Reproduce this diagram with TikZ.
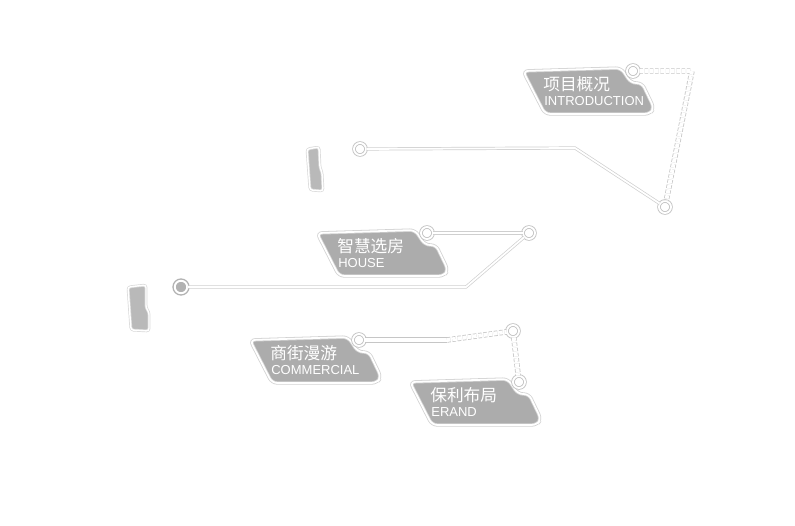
\documentclass[tikz,border=0pt]{standalone}
\usepackage{fontspec}
\setmainfont{Liberation Sans}
\newfontfamily\cjk{Noto Sans CJK SC}

\tikzset{
  tagbody/.style={draw=gray!35, line width=0.45pt, double=white, double distance=1pt, fill=gray!65, rounded corners=3pt},
  cn/.style={text=white, inner sep=0pt, anchor=west, font=\cjk\fontsize{9.5}{10}\selectfont},
  en/.style={text=white, inner sep=0pt, anchor=west, font=\fontsize{7.4}{8}\selectfont},
  ring/.style={circle, draw=gray!50, line width=0.45pt, double=white, double distance=1.1pt, fill=white, inner sep=0pt, minimum size=0.24cm},
  dot/.style={circle, draw=gray!60, line width=0.8pt, double=white, double distance=1.1pt, fill=gray!60, inner sep=0pt, minimum size=0.25cm},
  bus/.style={draw=gray!38, line width=0.4pt, double=white, double distance=1pt},
  widebus/.style={draw=gray!45, line width=0.45pt, double=white, double distance=2.2pt},
  dashbus/.style={widebus, dash pattern=on 2pt off 1pt},
  badge/.style={draw=gray!30, line width=0.4pt, double=white, double distance=0.8pt, fill=gray!55, rounded corners=1.5pt},
  pics/tag/.style 2 args={code={
    \draw[tagbody] (0,3) -- (98,0) -- (108,15) -- (119,15) -- (131,40) -- (127,46) -- (22,46) -- cycle;
    \node[cn] (-cn) at (20,16) {#1};
    \node[en] (-en) at (21,33) {#2};
  }},
}

\begin{document}
\begin{tikzpicture}[x=0.02cm, y=-0.02cm]
  \useasboundingbox (0,0) rectangle (795,525);

  % Tags
  \pic (intro) at (523,68) {tag={项目概况}{INTRODUCTION}};
  \pic (house) at (317,230) {tag={智慧选房}{HOUSE}};
  \pic (comm) at (250,337) {tag={商街漫游}{COMMERCIAL}};
  \pic (erand) at (410,379) {tag={保利布局}{ERAND}};

  % Badges
  \draw[badge] (307,149) -- (319,147) -- (320,168) -- (322,172) -- (323,191) -- (310,190) -- cycle;
  \draw[badge] (128,287) -- (146,285) -- (146,308) -- (149,312) -- (149,331) -- (131,330) -- cycle;

  % Rings
  \node[ring] (ic1) at (633,71) {};
  \node[ring] (ic2) at (665,207) {};
  \node[ring] (ic3) at (360,149) {};
  \node[ring] (hc1) at (427,233) {};
  \node[ring] (hc2) at (529,233) {};
  \node[dot] (hc3) at (181,287) {};
  \node[ring] (cc1) at (359,340) {};
  \node[ring] (cc2) at (513,331) {};
  \node[ring] (cc3) at (519,382) {};

  % Bends
  \coordinate (ib1) at (692,71);
  \coordinate (ib2) at (575,148);
  \coordinate (hb1) at (466,287);
  \coordinate (cb1) at (447,340);

  % Connectors
  \draw[dashbus] (ic1) -- (ib1) -- (ic2);
  \draw[bus] (ic2) -- (ib2) -- (ic3);
  \draw[bus] (hc1) -- (hc2);
  \draw[bus] (hc2) -- (hb1) -- (hc3);
  \draw[widebus] (cc1) -- (cb1);
  \draw[dashbus] (cb1) -- (cc2) -- (cc3);
\end{tikzpicture}
\end{document}
